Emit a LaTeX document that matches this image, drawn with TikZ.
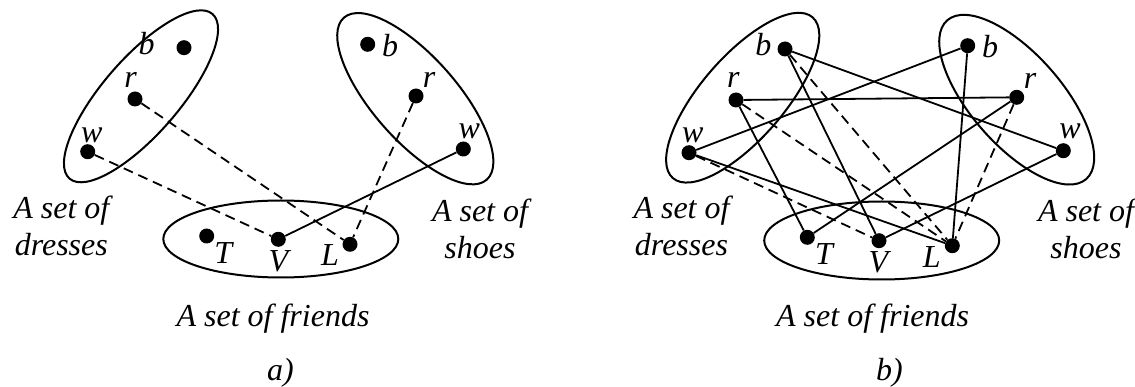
\documentclass[tikz,border=0pt]{standalone}
\usepackage{fontspec}
\setmainfont{Liberation Serif}
\usetikzlibrary{shapes.geometric}
\begin{document}
\begin{tikzpicture}[
    x=1pt, y=-1pt,
    setoval/.style={draw, ellipse, line width=2pt, inner sep=0pt},
    dot/.style={circle, fill=black, inner sep=0pt, minimum size=15pt},
    lbl/.style={inner sep=0pt, align=center, font=\fontsize{32}{37}\selectfont\itshape},
    link/.style={line width=1.8pt},
    dashlink/.style={link, dash pattern=on 10pt off 6pt}
]
    \useasboundingbox (0,0) rectangle (1135,387);

    % a)
    \node[setoval, rotate=49, minimum width=218pt, minimum height=76pt] (a-dresses) at (141,96.3) {};
    \node[setoval, rotate=-48.6, minimum width=216pt, minimum height=84pt] (a-shoes) at (415.3,98.7) {};
    \node[setoval, minimum width=235pt, minimum height=77pt] (a-friends) at (280.8,239) {};

    \node[dot] (a-db) at (184,47.7) {};
    \node[dot] (a-dr) at (135,99) {};
    \node[dot] (a-dw) at (87.7,151.7) {};
    \node[dot] (a-sb) at (367.7,44.3) {};
    \node[dot] (a-sr) at (416,96) {};
    \node[dot] (a-sw) at (463.3,149) {};
    \node[dot] (a-T) at (206.7,236) {};
    \node[dot] (a-V) at (278.3,239.3) {};
    \node[dot] (a-L) at (350,244.3) {};

    \node[lbl] (a-dbl) at (146.7,43.3) {b};
    \node[lbl] (a-drl) at (130.7,80) {r};
    \node[lbl] (a-dwl) at (91.7,135) {w};
    \node[lbl] (a-sbl) at (390,46) {b};
    \node[lbl] (a-srl) at (429,80) {r};
    \node[lbl] (a-swl) at (469.3,131.7) {w};
    \node[lbl] (a-Tl) at (223.3,253.3) {T};
    \node[lbl] (a-Vl) at (278.3,261.7) {V};
    \node[lbl] (a-Ll) at (330,255) {L};

    \node[lbl] (a-dtxt) at (61.3,226) {A set of\\dresses};
    \node[lbl] (a-stxt) at (480,229) {A set of\\shoes};
    \node[lbl] (a-ftxt) at (273,319) {A set of friends};
    \node[lbl] (a-cap) at (280.5,372.5) {a)};

    \draw[dashlink] (a-dr) -- (a-L);
    \draw[dashlink] (a-dw) -- (a-V);
    \draw[dashlink] (a-sr) -- (a-L);
    \draw[link] (a-sw) -- (a-V);

    % b)
    \node[setoval, rotate=49, minimum width=213pt, minimum height=83pt] (b-dresses) at (742.7,97.7) {};
    \node[setoval, rotate=-48.8, minimum width=211pt, minimum height=91pt] (b-shoes) at (1016.7,99.7) {};
    \node[setoval, minimum width=235pt, minimum height=78pt] (b-friends) at (881.7,240.5) {};

    \node[dot] (b-db) at (785,49) {};
    \node[dot] (b-dr) at (736,100) {};
    \node[dot] (b-dw) at (689,152.7) {};
    \node[dot] (b-sb) at (967.7,45.7) {};
    \node[dot] (b-sr) at (1016.7,97.3) {};
    \node[dot] (b-sw) at (1063.3,150.7) {};
    \node[dot] (b-T) at (807.3,237.3) {};
    \node[dot] (b-V) at (879,240.7) {};
    \node[dot] (b-L) at (952.3,245.7) {};

    \node[lbl] (b-dbl) at (763.3,45) {b};
    \node[lbl] (b-drl) at (733.3,80) {r};
    \node[lbl] (b-dwl) at (692.7,135) {w};
    \node[lbl] (b-sbl) at (990,46.7) {b};
    \node[lbl] (b-srl) at (1030,80.7) {r};
    \node[lbl] (b-swl) at (1070,131.7) {w};
    \node[lbl] (b-Tl) at (824,254) {T};
    \node[lbl] (b-Vl) at (878.3,262.7) {V};
    \node[lbl] (b-Ll) at (931.7,256.7) {L};

    \node[lbl] (b-dtxt) at (681.5,226) {A set of\\dresses};
    \node[lbl] (b-stxt) at (1086,229) {A set of\\shoes};
    \node[lbl] (b-ftxt) at (872.6,319) {A set of friends};
    \node[lbl] (b-cap) at (889.5,372.5) {b)};

    \draw[link] (b-db) -- (b-sw);
    \draw[link] (b-db) -- (b-V);
    \draw[link] (b-dr) -- (b-sr);
    \draw[link] (b-dr) -- (b-T);
    \draw[link] (b-dw) -- (b-sb);
    \draw[link] (b-dw) -- (b-L);
    \draw[link] (b-sb) -- (b-L);
    \draw[link] (b-sr) -- (b-T);
    \draw[link] (b-sw) -- (b-V);
    \draw[dashlink] (b-db) -- (b-L);
    \draw[dashlink] (b-dr) -- (b-L);
    \draw[dashlink] (b-dw) -- (b-V);
    \draw[dashlink] (b-sr) -- (b-L);
\end{tikzpicture}
\end{document}
